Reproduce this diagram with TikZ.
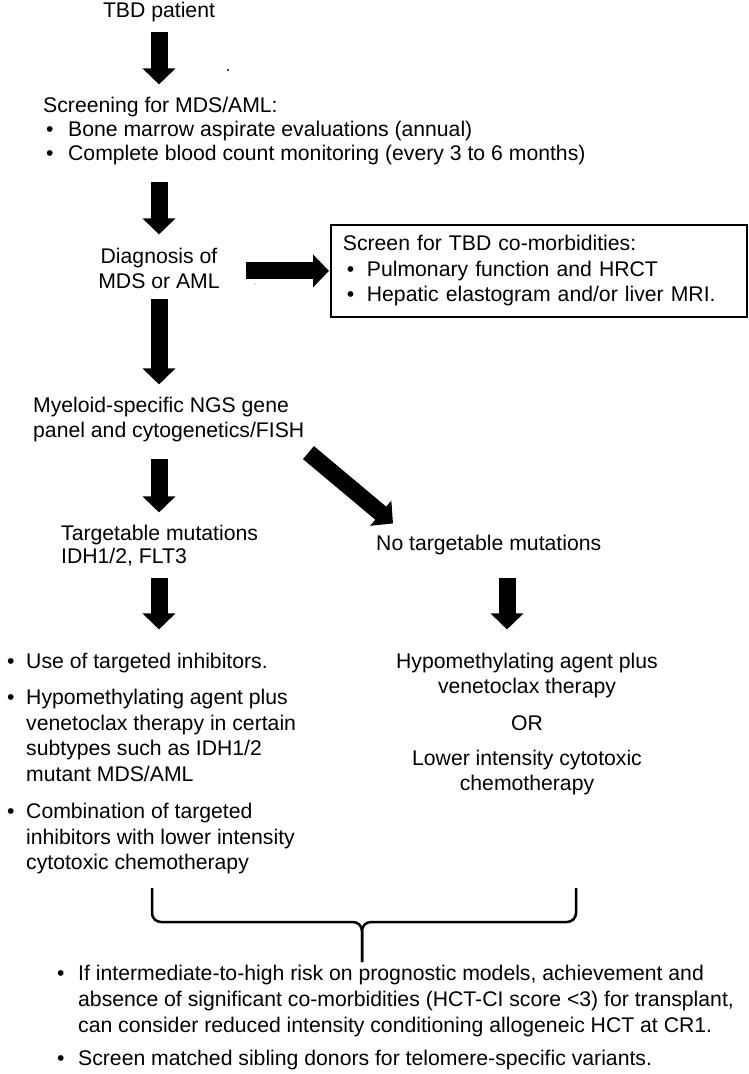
\documentclass[tikz,border=0pt]{standalone}
\usepackage{fontspec}
\setmainfont{Liberation Sans}
\usetikzlibrary{arrows.meta}
\newcommand{\bul}[1]{\makebox[#1][l]{\textbullet}}

\begin{document}
\begin{tikzpicture}[x=1pt,y=-1pt,
    txt/.style={inner sep=0pt, font=\fontsize{21.2}{25}\selectfont},
    fatarrow/.style={line width=17pt, -{Triangle[width=32pt,length=16pt]}},
    panel/.style={draw, line width=1.8pt, inner xsep=12pt, inner ysep=0pt, minimum height=92pt,
      text width=392pt, align=left, font=\fontsize{21.2}{25.5}\selectfont},
    bracket/.style={line width=2.5pt, rounded corners=9pt}]
  \useasboundingbox (0,0) rectangle (749,1074);

  \node[txt, anchor=base] (tbd) at (159,17) {TBD patient};
  \node[txt, anchor=base west, align=left, font=\fontsize{21.2}{24}\selectfont] (screen) at (43,160)
    {Screening for MDS/AML:\\
     \hspace*{3pt}\bul{22pt}Bone marrow aspirate evaluations (annual)\\
     \hspace*{3pt}\bul{22pt}Complete blood count monitoring (every 3 to 6 months)};
  \node[txt, anchor=base, align=center] (diag) at (159,288) {Diagnosis of\\ MDS or AML};
  \node[panel, anchor=north west] (comorb) at (330,224)
    {Screen for TBD co-morbidities:\\
     \hspace*{4pt}\bul{20pt}Pulmonary function and HRCT\\
     \hspace*{4pt}\bul{20pt}Hepatic elastogram and/or liver MRI.};
  \node[txt, anchor=base west, align=left] (myeloid) at (33,437)
    {Myeloid-specific NGS gene\\ panel and cytogenetics/FISH};
  \node[txt, anchor=base west, align=left, font=\fontsize{21.2}{23}\selectfont] (target) at (61,563)
    {Targetable mutations\\ IDH1/2, FLT3};
  \node[txt, anchor=base west] (notarget) at (376,550) {No targetable mutations};
  \node[txt, anchor=base west, align=left, font=\fontsize{21.2}{25.5}\selectfont] (lefttx) at (7,869.5)
    {\bul{19pt}Use of targeted inhibitors.\\[11pt]
     \bul{19pt}Hypomethylating agent plus\\
     \hspace*{19pt}venetoclax therapy in certain\\
     \hspace*{19pt}subtypes such as IDH1/2\\
     \hspace*{19pt}mutant MDS/AML\\[12pt]
     \bul{19pt}Combination of targeted\\
     \hspace*{19pt}inhibitors with lower intensity\\
     \hspace*{19pt}cytotoxic chemotherapy};
  \node[txt, anchor=base, align=center] (righttx) at (527,790)
    {Hypomethylating agent plus\\ venetoclax therapy\\[12pt]
     OR\\[10pt]
     Lower intensity cytotoxic\\ chemotherapy};
  \node[txt, anchor=base west, align=left, font=\fontsize{21.2}{26}\selectfont] (transpl) at (57,1065)
    {\bul{21pt}If intermediate-to-high risk on prognostic models, achievement and\\
     \hspace*{21pt}absence of significant co-morbidities (HCT-CI score <3) for transplant,\\
     \hspace*{21pt}can consider reduced intensity conditioning allogeneic HCT at CR1.\\[7pt]
     \bul{21pt}Screen matched sibling donors for telomere-specific variants.};

  \draw[fatarrow, shorten <=10.5pt, shorten >=12pt] (tbd.south) -- (tbd.south |- screen.north);
  \draw[fatarrow, shorten <=17.5pt, shorten >=13pt] (tbd.south |- screen.south) -- (diag.north);
  \draw[fatarrow, shorten <=26pt, shorten >=1pt] (diag.east |- comorb.west) -- (comorb.west);
  \draw[fatarrow, shorten <=11pt, shorten >=12pt] (diag.south) -- (diag.south |- myeloid.north);
  \draw[fatarrow, shorten <=17.5pt, shorten >=12pt] (diag.south |- myeloid.south) -- (diag.south |- target.north);
  \draw[fatarrow] ([xshift=4pt,yshift=-11pt]myeloid.south east) -- ([xshift=17pt,yshift=11pt]notarget.north west);
  \draw[fatarrow, shorten <=12pt, shorten >=23pt] (diag.south |- target.south) -- (diag.south |- lefttx.north);
  \draw[fatarrow, shorten <=23pt, shorten >=23pt] ([xshift=-20pt]righttx.north |- notarget.south) -- ([xshift=-20pt]righttx.north);

  \draw[bracket] (152,888) -- (152,922) -- (362,922) -- (362,962);
  \draw[bracket] (576,888) -- (576,922) -- (362,922) -- (362,962);

  \fill (228,70) circle (1.2pt);
  \fill[gray] (255,284) circle (0.7pt);
\end{tikzpicture}
\end{document}
